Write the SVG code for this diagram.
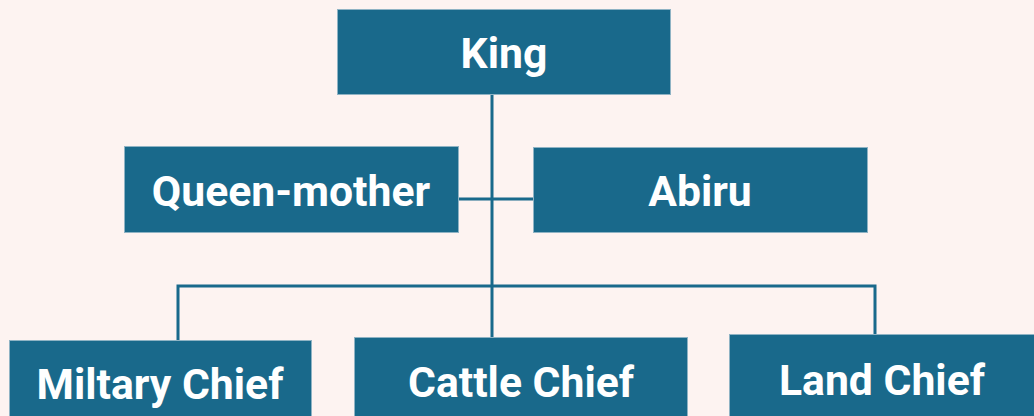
<svg xmlns="http://www.w3.org/2000/svg" width="1034" height="416" viewBox="0 0 1034 416">
<style>
.box{fill:#19698b;stroke:#8fb3c4;stroke-width:1}
.lbl{font-family:Roboto,"Liberation Sans",sans-serif;font-weight:bold;font-size:42.7px;fill:#ffffff;text-anchor:middle}
.con{stroke:#19698b;stroke-width:3;fill:none}
</style>
<rect width="1034" height="416" fill="#fdf3f1"/>
<g id="connectors">
<line class="con" x1="492" y1="95" x2="492" y2="337"/>
<line class="con" x1="458" y1="199" x2="533" y2="199"/>
<polyline class="con" points="178,340 178,286 875,286 875,334"/>
</g>
<g id="king"><rect class="box" x="337.5" y="9.5" width="333" height="85"/><text class="lbl" x="504" y="68">King</text></g>
<g id="queen-mother"><rect class="box" x="124.5" y="146.5" width="334" height="86"/><text class="lbl" x="291" y="206">Queen-mother</text></g>
<g id="abiru"><rect class="box" x="533.5" y="147.5" width="334" height="85"/><text class="lbl" x="700" y="206">Abiru</text></g>
<g id="military-chief"><rect class="box" x="9.5" y="340.5" width="302" height="90"/><text class="lbl" x="160" y="399">Miltary Chief</text></g>
<g id="cattle-chief"><rect class="box" x="354.5" y="337.5" width="333" height="90"/><text class="lbl" x="521" y="397">Cattle Chief</text></g>
<g id="land-chief"><rect class="box" x="729.5" y="334.5" width="310" height="90"/><text class="lbl" x="882" y="395">Land Chief</text></g>
</svg>
